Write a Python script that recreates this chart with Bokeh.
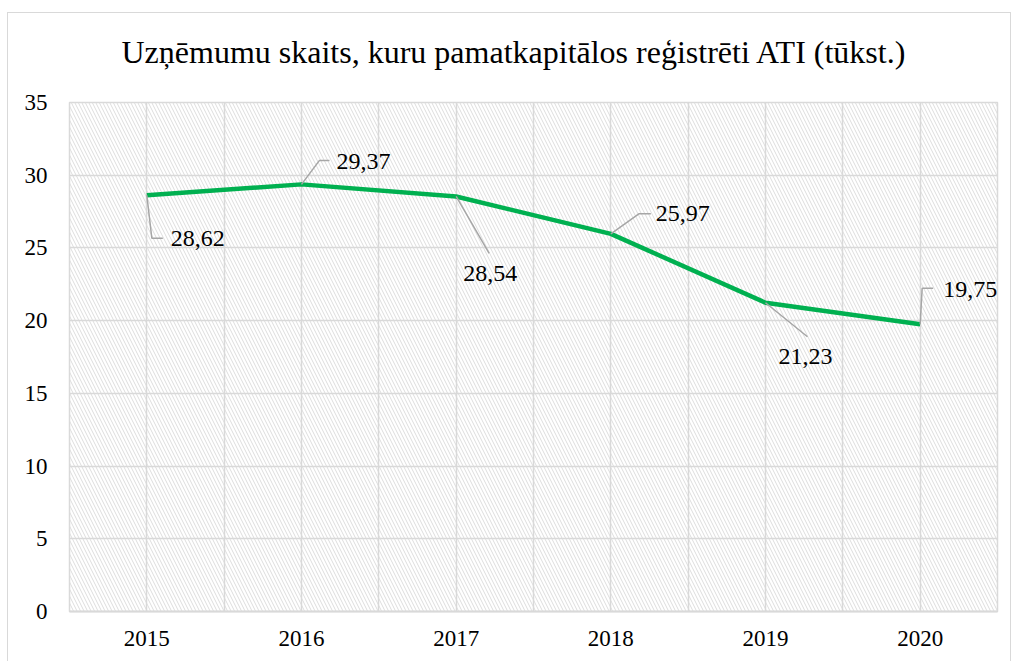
from bokeh.plotting import figure
from bokeh.models import BoxAnnotation, FixedTicker, ColumnDataSource, Range1d
from bokeh.core.properties import value
from bokeh.embed import file_html
from bokeh.resources import INLINE

# ---- data ----
years = [2015, 2016, 2017, 2018, 2019, 2020]
values = [28.62, 29.37, 28.54, 25.97, 21.23, 19.75]
y_ticks = [0, 5, 10, 15, 20, 25, 30, 35]
title_text = "Uzņēmumu skaits, kuru pamatkapitālos reģistrēti ATI (tūkst.)"

# ---- styles / layout ----
FONT = "Liberation Serif"
FRAME_W, FRAME_H = 928, 509
X0, X1 = 2014.5, 2020.5
Y0, Y1 = 0, 35
px_x = FRAME_W / (X1 - X0)
px_y = FRAME_H / (Y1 - Y0)

# leader path (pixel offsets from point, y down) and label anchor per point
leader_px = [
    [(0, 0), (5, 43), (16, 43)],
    [(0, 0), (18, -24), (28, -24)],
    [(0, 0), (33, 57)],
    [(0, 0), (28, -20), (40, -20)],
    [(0, 0), (42, 34)],
    [(0, 0), (2, -36), (13, -36)],
]
label_px = [(24, 43), (35, -23), (34, 77), (45, -20), (40, 54), (23, -35)]
label_align = ["left", "left", "center", "left", "center", "left"]

p = figure(
    title=title_text,
    frame_width=FRAME_W, frame_height=FRAME_H,
    x_range=Range1d(X0, X1), y_range=Range1d(Y0, Y1),
    output_backend="svg", toolbar_location=None,
    min_border_left=69, min_border_right=14, min_border_top=102, min_border_bottom=49,
)
p.stylesheets = [":host { position: relative; } "
                 ":host::after { content: ''; position: absolute; left: 7px; top: 12px; "
                 "right: 0px; bottom: -2px; border: 1px solid #d9d9d9; pointer-events: none; }"]

# background hatch
p.add_layout(BoxAnnotation(fill_alpha=0, line_alpha=0, hatch_pattern="left_diagonal_line",
                           hatch_color="#dddddd", hatch_weight=1, hatch_scale=7, level="image"))

# title
p.title.text_font = FONT
p.title.text_font_size = "32px"
p.title.text_font_style = "normal"
p.title.text_color = "#000000"
p.title.align = "left"
p.title.offset = 52
p.title.vertical_align = "middle"
p.title.standoff = 64

# grids
p.xgrid.ticker = FixedTicker(ticks=[X0 + 0.5 * i for i in range(13)])
p.ygrid.ticker = FixedTicker(ticks=y_ticks)
for g in (p.xgrid, p.ygrid):
    g.grid_line_color = "#d9d9d9"
    g.grid_line_width = 1.5
p.outline_line_color = "#d9d9d9"
p.outline_line_width = 1.5

# axes
p.xaxis.ticker = FixedTicker(ticks=years)
p.yaxis.ticker = FixedTicker(ticks=y_ticks)
p.xaxis.formatter.use_scientific = False
for ax in (p.xaxis, p.yaxis):
    ax.major_tick_line_color = None
    ax.minor_tick_line_color = None
    ax.major_label_text_font = FONT
    ax.major_label_text_font_size = "23px"
    ax.major_label_text_color = "#000000"
p.xaxis.axis_line_color = "#d9d9d9"
p.xaxis.axis_line_width = 2
p.yaxis.axis_line_color = None
p.xaxis.major_label_standoff = 13
p.yaxis.major_label_standoff = 16

# line
p.line(years, values, line_color="#00b050", line_width=4.5)

# leader lines
xs, ys = [], []
for x, y, path in zip(years, values, leader_px):
    xs.append([x + dx / px_x for dx, dy in path])
    ys.append([y - dy / px_y for dx, dy in path])
p.multi_line(xs, ys, line_color="#a6a6a6", line_width=1.5)

# data labels
labels = [f"{v:.2f}".replace(".", ",") for v in values]
src = ColumnDataSource(dict(
    x=[x + dx / px_x for x, (dx, dy) in zip(years, label_px)],
    y=[y - dy / px_y for y, (dx, dy) in zip(values, label_px)],
    text=labels, align=label_align,
))
p.text("x", "y", text="text", source=src, text_align="align", text_baseline="middle",
       text_font=value(FONT), text_font_size="24px", text_color="#000000")

open("out.html", "w").write(file_html(p, INLINE))
